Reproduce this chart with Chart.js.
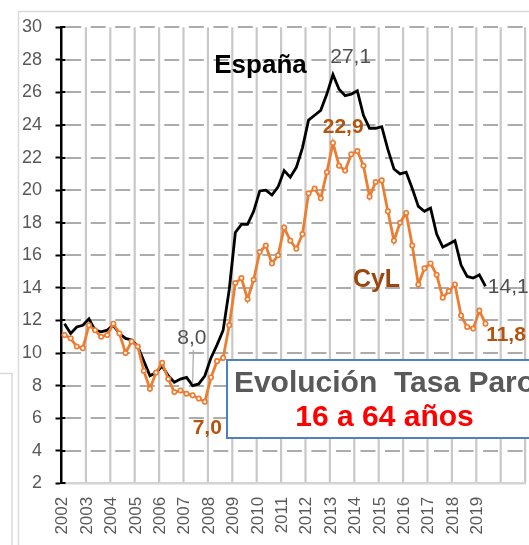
<!DOCTYPE html>
<html>
<head>
<meta charset="utf-8">
<script src="https://cdn.jsdelivr.net/npm/chart.js@4/dist/chart.umd.min.js"></script>
<style>
html,body{margin:0;padding:0;background:#fff;overflow:hidden}
</style>
</head>
<body>
<canvas id="c" width="529" height="545"></canvas>
<script>
// ---- data ----
const axisYears = [2002,2003,2004,2005,2006,2007,2008,2009,2010,2011,2012,2013,2014,2015,2016,2017,2018,2019,2020];
const quarterNames = ['T1','T2','T3','T4'];
const yearLabels = ['2002','2003','2004','2005','2006','2007','2008','2009','2010','2011','2012','2013','2014','2015','2016','2017','2018','2019'];

const espana = [
  11.8, 11.2, 11.6, 11.7,
  12.1, 11.4, 11.3, 11.4,
  11.7, 11.2, 10.9, 10.8,
  10.4, 9.5, 8.6, 8.8,
  9.2, 8.6, 8.2, 8.4,
  8.5, 8.0, 8.1, 8.6,
  9.7, 10.5, 11.4, 13.9,
  17.4, 17.9, 17.9, 18.7,
  19.95, 20.0, 19.7, 20.2,
  21.2, 20.8, 21.4, 22.6,
  24.3, 24.6, 24.9, 25.9,
  27.1, 26.2, 25.8, 25.9,
  26.1, 24.6, 23.8, 23.8,
  23.9, 22.5, 21.3, 21.0,
  21.1, 20.1, 19.0, 18.7,
  18.9, 17.3, 16.5, 16.7,
  16.9, 15.4, 14.7, 14.6,
  14.8, 14.1
];

const cyl = [
  11.1, 10.9, 10.4, 10.3,
  11.7, 11.4, 11.0, 11.1,
  11.8, 11.2, 10.0, 10.7,
  10.4, 8.9, 7.8, 8.8,
  9.4, 8.4, 7.6, 7.7,
  7.5, 7.4, 7.2, 7.0,
  8.5, 9.5, 9.7, 11.7,
  14.3, 14.6, 13.3, 14.5,
  16.2, 16.6, 15.5, 16.0,
  17.7, 16.9, 16.4, 17.3,
  19.8, 20.1, 19.5, 21.1,
  22.9, 21.5, 21.2, 22.2,
  22.4, 21.5, 19.6, 20.5,
  20.6, 18.7, 16.9, 18.0,
  18.6, 16.6, 14.2, 15.2,
  15.5, 14.8, 13.4, 13.8,
  14.2, 12.3, 11.6, 11.5,
  12.6, 11.8
];

const yMin = 2, yMax = 30, yStep = 2;

// categories (quarters) built from the year list
const categories = [];
axisYears.forEach(y => quarterNames.forEach(q => categories.push(y + q)));

// ---- styling ----
const FONT = "'Liberation Sans', Arial, sans-serif";
const GRAY_TXT = '#595959';
const ORANGE = '#ED7D31';
const BROWN = '#B4540F';
const BROWN_DARK = '#9A470D';

const annotations = [
  { text: '27,1', ds: 1, idx: 44, dx: 17.7, dy: -11.5, font: `21px ${FONT}`, color: '#505050', align: 'center' },
  { text: '22,9', ds: 0, idx: 44, dx: 10.2, dy: -10, font: `bold 21px ${FONT}`, color: BROWN, align: 'center' },
  { text: '8,0', ds: 1, idx: 21, dx: -0.8, dy: -41.7, font: `21px ${FONT}`, color: '#505050', align: 'center', leader: true },
  { text: '7,0', ds: 0, idx: 23, dx: 2.4, dy: 32, font: `bold 21px ${FONT}`, color: BROWN, align: 'center' },
  { text: '14,1', ds: 1, idx: 69, dx: 2.4, dy: 6.4, font: `21px ${FONT}`, color: '#505050', align: 'left' },
  { text: '11,8', ds: 0, idx: 69, dx: 0.7, dy: 17, font: `bold 21px ${FONT}`, color: BROWN, align: 'left' }
];

function drawGrid(chart) {
  const c = chart.ctx, xs = chart.scales.x, ys = chart.scales.y, a = chart.chartArea;
  const band = xs.width / categories.length;
  c.save();
  // vertical year gridlines (category boundaries every 4 quarters)
  c.strokeStyle = '#c8c8c8';
  c.lineWidth = 2.2;
  for (let k = 1; k <= axisYears.length; k++) {
    const x = xs.getPixelForValue(k * 4) - band / 2;
    c.beginPath(); c.moveTo(x, a.top); c.lineTo(x, a.bottom); c.stroke();
  }
  // horizontal dashed gridlines
  c.strokeStyle = '#acacac';
  c.lineWidth = 2.2;
  c.setLineDash([15, 9.52]);
  c.lineDashOffset = 19.8;
  ys.ticks.forEach(t => {
    if (t.value === yMin) return;
    const y = Math.round(ys.getPixelForValue(t.value));
    c.beginPath(); c.moveTo(a.left, y); c.lineTo(a.right, y); c.stroke();
  });
  c.restore();
}

const decor = {
  id: 'decor',
  beforeDraw(chart) {
    drawGrid(chart);
    const c = chart.ctx;
    c.save();
    c.strokeStyle = '#d9d9d9';
    c.lineWidth = 1.5;
    c.beginPath(); c.moveTo(0, 373.5); c.lineTo(12, 373.5); c.lineTo(12, 546); c.stroke();
    c.beginPath(); c.moveTo(18.5, 546); c.lineTo(18.5, 11.5); c.lineTo(530, 11.5); c.stroke();
    c.restore();
  },
  afterDraw(chart) {
    const c = chart.ctx, xs = chart.scales.x, ys = chart.scales.y;
    c.save();
    // inner half of the crossing tick marks on the value axis
    c.strokeStyle = '#000'; c.lineWidth = 2;
    ys.ticks.forEach(t => {
      const y = Math.round(ys.getPixelForValue(t.value));
      c.beginPath(); c.moveTo(xs.left, y); c.lineTo(xs.left + 4, y); c.stroke();
    });
    // rotated year labels (reading bottom-to-top)
    const band = xs.width / categories.length;
    c.fillStyle = GRAY_TXT;
    c.font = `17px ${FONT}`;
    c.textAlign = 'right';
    c.textBaseline = 'middle';
    yearLabels.forEach((lab, k) => {
      const x = xs.getPixelForValue(k * 4) - band / 2 + 1.2;
      c.save();
      c.translate(x, xs.top + 13.5);
      c.rotate(-Math.PI / 2);
      c.fillText(lab, 0, 0);
      c.restore();
    });
    // value annotations anchored to points
    c.textBaseline = 'alphabetic';
    annotations.forEach(a => {
      const p = chart.getDatasetMeta(a.ds).data[a.idx];
      const tx = p.x + a.dx, ty = p.y + a.dy;
      if (a.leader) {
        c.strokeStyle = '#a6a6a6'; c.lineWidth = 1.2;
        c.beginPath(); c.moveTo(tx + 1.5, ty + 6); c.lineTo(p.x, p.y - 2); c.stroke();
      }
      c.font = a.font; c.fillStyle = a.color; c.textAlign = a.align;
      c.fillText(a.text, tx, ty);
    });
    // series names
    c.textAlign = 'center';
    c.font = `bold 26px ${FONT}`; c.fillStyle = '#000';
    c.fillText('España', 260.5, 73);
    c.font = `bold 25px ${FONT}`; c.fillStyle = BROWN_DARK;
    c.fillText('CyL', 376.5, 287);
    // title box
    c.fillStyle = '#fff';
    c.fillRect(227, 360, 330, 78);
    c.strokeStyle = '#4F81BD'; c.lineWidth = 2;
    c.strokeRect(227, 360, 330, 78);
    c.font = `bold 30px ${FONT}`;
    c.fillStyle = GRAY_TXT;
    c.fillText('Evolución  Tasa Paro', 384.5, 391.5);
    c.fillStyle = '#FF0000';
    c.fillText('16 a 64 años', 384.5, 426);
    c.restore();
  }
};

new Chart(document.getElementById('c').getContext('2d'), {
  type: 'line',
  data: {
    labels: categories,
    datasets: [
      { label: 'CyL', data: cyl, borderColor: ORANGE, borderWidth: 2.8, tension: 0,
        pointRadius: 2.2, pointHoverRadius: 2.2, pointBorderWidth: 1.7,
        pointBackgroundColor: '#fff', pointBorderColor: ORANGE },
      { label: 'España', data: espana, borderColor: '#000', borderWidth: 2.8, tension: 0,
        pointRadius: 0, pointHoverRadius: 0 }
    ]
  },
  options: {
    responsive: false,
    animation: false,
    devicePixelRatio: 1,
    events: [],
    layout: { padding: { top: 27.3, right: 1.5, left: 0, bottom: 0 } },
    plugins: { legend: { display: false }, tooltip: { enabled: false } },
    scales: {
      x: {
        type: 'category',
        offset: true,
        grid: { display: false },
        border: { display: true, color: '#d4d4d4', width: 2.5 },
        ticks: { display: false, autoSkip: false },
        afterFit: s => { s.height = 545 - 483.3; s.paddingLeft = 0; s.paddingRight = 0; }
      },
      y: {
        min: yMin, max: yMax,
        ticks: { stepSize: yStep, color: GRAY_TXT, font: { family: FONT, size: 18 }, padding: 13.5 },
        grid: {
          drawOnChartArea: false,
          tickColor: '#000', tickLength: 6, tickWidth: 2
        },
        border: { display: true, color: '#000', width: 2.5 },
        afterFit: s => { s.width = 61.5; }
      }
    }
  },
  plugins: [decor]
});
</script>
</body>
</html>
